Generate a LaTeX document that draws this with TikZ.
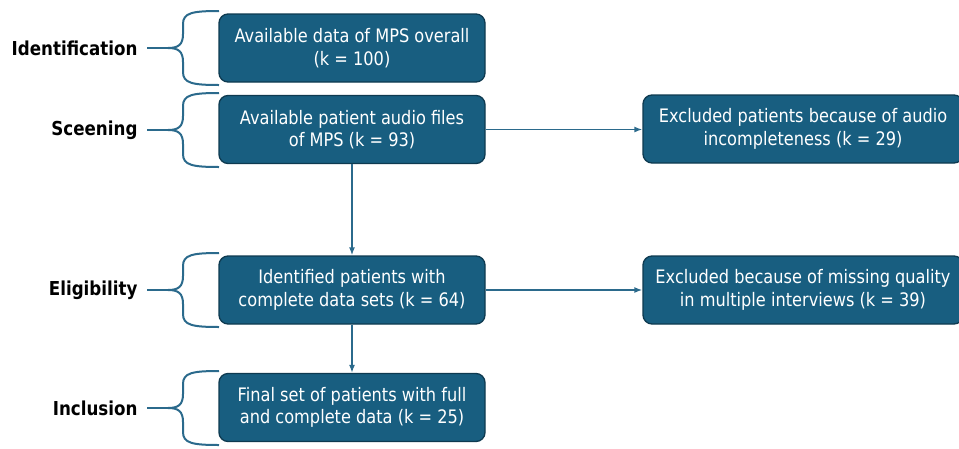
\documentclass[tikz,border=0pt]{standalone}
\usepackage{fontspec}
\setmainfont{DejaVu Sans}[FakeStretch=0.87]
\usetikzlibrary{arrows.meta}
\definecolor{boxfill}{HTML}{185E80}
\definecolor{boxline}{HTML}{0E3A50}
\definecolor{conncol}{HTML}{2B6A8C}
\begin{document}
\begin{tikzpicture}[x=1pt,y=-1pt,
  stepbox/.style={draw=boxline, line width=1.3pt, fill=boxfill, rounded corners=9pt,
    text=white, align=center, font=\fontsize{18.6}{22.5}\selectfont,
    minimum width=266pt, minimum height=68pt, inner sep=0pt},
  sidebox/.style={stepbox, minimum width=320pt},
  phase/.style={anchor=east, font=\fontsize{19.2}{22}\selectfont\bfseries},
  conn/.style={draw=conncol, line width=1.5pt, -{Latex[length=8pt,width=6pt]}},
  bracepath/.style={draw=conncol, line width=2pt}
]
\useasboundingbox (0,0) rectangle (959,448);

\node[stepbox] (b1) at (352,48) {Available data of MPS overall\\(k = 100)};
\node[stepbox] (b2) at (352,129.5) {Available patient audio files\\of MPS (k = 93)};
\node[stepbox] (b3) at (352,290) {Identified patients with\\complete data sets (k = 64)};
\node[stepbox] (b4) at (352,407.5) {Final set of patients with full\\and complete data (k = 25)};
\node[sidebox] (r1) at (803,129) {Excluded patients because of audio\\incompleteness (k = 29)};
\node[sidebox] (r2) at (803,290) {Excluded because of missing quality\\in multiple interviews (k = 39)};

\draw[conn] (b2.east) -- (b2.east -| r1.west);
\draw[conn] (b2.south) -- (b3.north);
\draw[conn] (b3.south) -- (b4.north);
\draw[conn] (b3.east) -- (b3.east -| r2.west);

\foreach \yc/\nm/\lab in {48/id/Identification, 130/sc/Sceening, 290/el/Eligibility, 408/in/Inclusion}{
  \node[phase] (\nm) at (141,\yc) {\lab};
  \coordinate (\nm tip) at (168,\yc);
  \draw[bracepath] ([xshift=6pt]\nm.east) -- (\nm tip);
  \draw[bracepath] (219,\yc-37) .. controls (192,\yc-37) and (183,\yc-35) .. (183,\yc-24)
    -- (183,\yc-14) .. controls (183,\yc-3) and (178,\yc) .. (\nm tip)
    .. controls (178,\yc) and (183,\yc+3) .. (183,\yc+14)
    -- (183,\yc+24) .. controls (183,\yc+35) and (192,\yc+37) .. (219,\yc+37);
}
\end{tikzpicture}
\end{document}
